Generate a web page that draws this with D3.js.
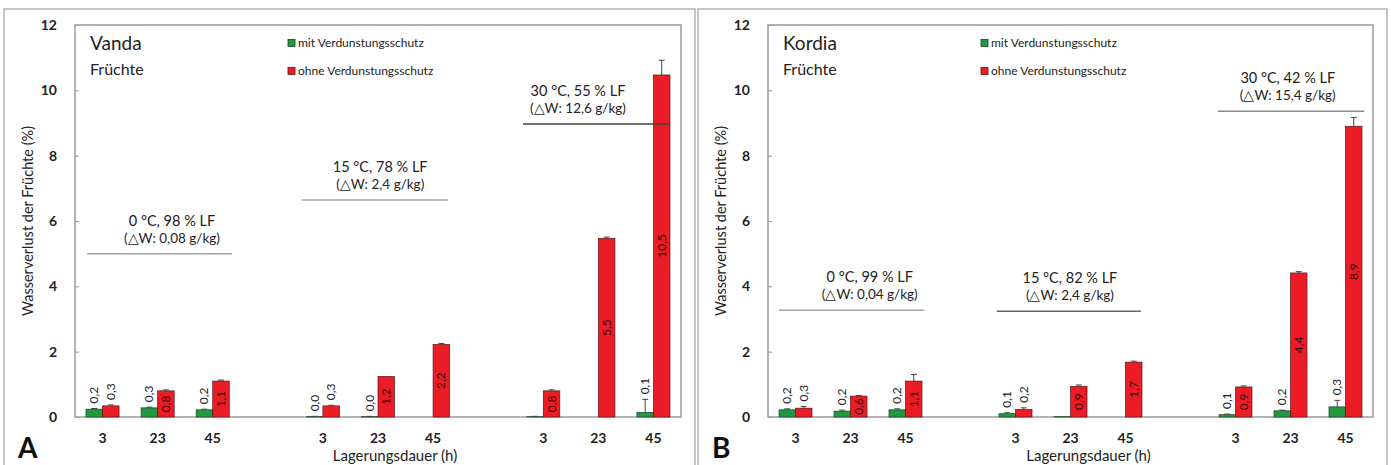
<!DOCTYPE html>
<html><head><meta charset="utf-8">
<script src="https://cdn.jsdelivr.net/npm/d3@7"></script>
<style>
body{margin:0;background:#fff}
svg{display:block}
text{font-family:Lato,"Open Sans",sans-serif;fill:#222}
</style></head>
<body><svg id="c" width="1391" height="465"></svg>
<script>
// ---------- data ----------
const slotLabels = ["3","23","45","","3","23","45","","3","23","45"];
const seriesNames = ["mit Verdunstungsschutz","ohne Verdunstungsschutz"];
const yTicks = [0,2,4,6,8,10,12];
const yTitle = "Wasserverlust der Früchte (%)";
const xTitle = "Lagerungsdauer (h)";

// Vanda (A): 9 bars per series: 3 climates x 3 storage durations (3, 23, 45 h)
const vandaMit      = [0.24,0.28,0.22, 0.01,0.01,0.00, 0.01,0.00,0.14];
const vandaMitErr   = [0.02,0.02,0.02, 0.01,0.01,0.00, 0.01,0.00,0.40];
const vandaMitLbl   = ["0,2","0,3","0,2","0,0","0,0",null,null,null,"0,1"];
const vandaOhne     = [0.34,0.80,1.10, 0.34,1.24,2.22, 0.80,5.47,10.47];
const vandaOhneErr  = [0.03,0.03,0.03, 0.02,0.00,0.03, 0.03,0.04,0.45];
const vandaOhneLbl  = ["0,3","0,8","1,1","0,3","1,2","2,2","0,8","5,5","10,5"];
const vandaCond     = ["0 °C, 98 % LF","15 °C, 78 % LF","30 °C, 55 % LF"];
const vandaDeltaW   = ["(△W: 0,08 g/kg)","(△W: 2,4 g/kg)","(△W: 12,6 g/kg)"];
const vandaLineY    = [5.0, 6.64, 8.97];

// Kordia (B)
const kordiaMit     = [0.22,0.18,0.22, 0.10,0.01,0.00, 0.07,0.19,0.31];
const kordiaMitErr  = [0.03,0.03,0.03, 0.03,0.00,0.00, 0.02,0.02,0.20];
const kordiaMitLbl  = ["0,2","0,2","0,2","0,1",null,null,"0,1","0,2","0,3"];
const kordiaOhne    = [0.27,0.64,1.10, 0.23,0.94,1.68, 0.92,4.41,8.90];
const kordiaOhneErr = [0.05,0.02,0.20, 0.05,0.04,0.03, 0.03,0.04,0.27];
const kordiaOhneLbl = ["0,3","0,6","1,1","0,2","0,9","1,7","0,9","4,4","8,9"];
const kordiaCond    = ["0 °C, 99 % LF","15 °C, 82 % LF","30 °C, 42 % LF"];
const kordiaDeltaW  = ["(△W: 0,04 g/kg)","(△W: 2,4 g/kg)","(△W: 15,4 g/kg)"];
const kordiaLineY   = [3.27, 3.24, 9.36];

// ---------- drawing ----------
const svg = d3.select("#c");
const colors = {mit:"#1f9a42", ohne:"#ec1c26"};
const strokes = {mit:"#1c3d22", ohne:"#5a1414"};

const panels = [
  {letter:"A", cultivar:"Vanda", frame:[4,9,695], plot:{l:75,r:681,t:25,b:417},
   mit:vandaMit, mitErr:vandaMitErr, mitLbl:vandaMitLbl,
   ohne:vandaOhne, ohneErr:vandaOhneErr, ohneLbl:vandaOhneLbl,
   cond:vandaCond, dw:vandaDeltaW, lineY:vandaLineY,
   lineX:[[0.22,2.85],[4.12,6.77],[8.13,10.78]], textX:[1.76,5.54,9.13],
   lineCol:["#a3a3a3","#a3a3a3","#444"], xTitleShift:17},
  {letter:"B", cultivar:"Kordia", frame:[698,9,1387], plot:{l:768,r:1373,t:25,b:417},
   mit:kordiaMit, mitErr:kordiaMitErr, mitLbl:kordiaMitLbl,
   ohne:kordiaOhne, ohneErr:kordiaOhneErr, ohneLbl:kordiaOhneLbl,
   cond:kordiaCond, dw:kordiaDeltaW, lineY:kordiaLineY,
   lineX:[[0.2,2.84],[4.16,6.78],[8.18,10.84]], textX:[1.85,5.49,9.45],
   lineCol:["#a3a3a3","#666","#8a8a8a"], xTitleShift:18}
];

panels.forEach(p => {
  const P = p.plot;
  const g = svg.append("g");
  // outer frame
  g.append("path")
    .attr("d", `M${p.frame[0]},470V${p.frame[1]}H${p.frame[2]}V470`)
    .attr("fill","none").attr("stroke","#b4b4b4").attr("stroke-width",1.5);

  const x = d3.scaleBand().domain(d3.range(slotLabels.length)).range([P.l,P.r]);
  const bw = x.bandwidth();
  const xs = d3.scaleBand().domain(["mit","ohne"]).range([bw*0.2,bw*0.8]);
  const y = d3.scaleLinear().domain([0,12]).range([P.b,P.t]);
  const slotX = s => P.l + s*bw;   // position in slot units

  // plot frame
  g.append("rect").attr("x",P.l).attr("y",P.t).attr("width",P.r-P.l).attr("height",P.b-P.t)
    .attr("fill","none").attr("stroke","#9a9a9a").attr("stroke-width",1.5);

  // y axis
  const ya = d3.axisLeft(y).tickValues(yTicks).tickSizeInner(-4).tickSizeOuter(0).tickPadding(18);
  const yg = g.append("g").attr("transform",`translate(${P.l},0)`).call(ya);
  yg.select(".domain").remove();
  yg.selectAll("line").attr("stroke","#9a9a9a");
  yg.selectAll("text").attr("font-size",14).attr("font-weight",700).attr("fill","#333")
    .attr("font-family","Lato,sans-serif");

  // x axis labels
  const xa = d3.axisBottom(x).tickFormat(i => slotLabels[i]).tickSize(0).tickPadding(16);
  const xg = g.append("g").attr("transform",`translate(0,${P.b})`).call(xa);
  xg.select(".domain").remove();
  xg.selectAll("text").attr("font-size",14).attr("font-weight",700).attr("fill","#333")
    .attr("font-family","Lato,sans-serif");

  // axis titles
  g.append("text").attr("transform",`translate(${P.l-42},${(P.t+P.b)/2}) rotate(-90)`)
    .attr("text-anchor","middle").attr("font-size",14.5).text(yTitle);
  g.append("text").attr("x",(P.l+P.r)/2+p.xTitleShift).attr("y",461)
    .attr("text-anchor","middle").attr("font-size",15).text(xTitle);

  // panel letter
  g.append("text").attr("x",p.frame[0]+14).attr("y",458).attr("font-size",28)
    .attr("font-weight",700).attr("font-family","Liberation Sans, Arial, sans-serif")
    .style("fill","#111").text(p.letter);

  // cultivar title
  g.append("text").attr("x",P.l+15).attr("y",50).attr("font-size",19).text(p.cultivar);
  g.append("text").attr("x",P.l+15).attr("y",75).attr("font-size",16).text("Früchte");

  // legend
  ["mit","ohne"].forEach((k,i) => {
    const ly = 43 + i*28;
    g.append("rect").attr("x",P.l+213).attr("y",ly-3.5).attr("width",7).attr("height",7)
      .attr("fill",colors[k]).attr("stroke",strokes[k]).attr("stroke-width",0.8);
    g.append("text").attr("x",P.l+223).attr("y",ly+4).attr("font-size",12).text(seriesNames[i]);
  });

  // bars
  const slotOf = i => Math.floor(i/3)*4 + i%3;
  ["mit","ohne"].forEach(k => {
    const vals = p[k], errs = p[k+"Err"], lbls = p[k+"Lbl"];
    vals.forEach((v,i) => {
      const bx = x(slotOf(i)) + xs(k);
      const w = xs.bandwidth();
      if (v > 0) {
        g.append("rect").attr("x",bx).attr("y",y(v)).attr("width",w).attr("height",y(0)-y(v))
          .attr("fill",colors[k]).attr("stroke",strokes[k]).attr("stroke-width",0.7);
      }
      const e = errs[i];
      if (e > 0) {
        const cx = bx + w/2;
        g.append("line").attr("x1",cx).attr("x2",cx).attr("y1",y(v)).attr("y2",y(v+e))
          .attr("stroke","#444").attr("stroke-width",1);
        g.append("line").attr("x1",cx-3).attr("x2",cx+3).attr("y1",y(v+e)).attr("y2",y(v+e))
          .attr("stroke","#444").attr("stroke-width",1);
      }
      const L = lbls[i];
      if (L) {
        const cx = bx + w/2 + 4;
        if (k === "ohne" && v >= 0.5) {
          g.append("text").attr("transform",`translate(${cx},${(y(v)+y(0))/2}) rotate(-90)`)
            .attr("text-anchor","middle").attr("font-size",12).style("fill","#3a0a0a").text(L);
        } else {
          g.append("text").attr("transform",`translate(${cx},${y(v+e)-5}) rotate(-90)`)
            .attr("text-anchor","start").attr("font-size",12).text(L);
        }
      }
    });
  });

  // climate annotations
  p.cond.forEach((c,j) => {
    const ly = y(p.lineY[j]);
    g.append("line").attr("x1",slotX(p.lineX[j][0])).attr("x2",slotX(p.lineX[j][1]))
      .attr("y1",ly).attr("y2",ly).attr("stroke",p.lineCol[j]).attr("stroke-width",1.5);
    g.append("text").attr("x",slotX(p.textX[j])).attr("y",ly-28).attr("text-anchor","middle")
      .attr("font-size",14.5).text(c);
    g.append("text").attr("x",slotX(p.textX[j])).attr("y",ly-11).attr("text-anchor","middle")
      .attr("font-size",13.5).text(p.dw[j]);
  });
});
</script></body></html>
